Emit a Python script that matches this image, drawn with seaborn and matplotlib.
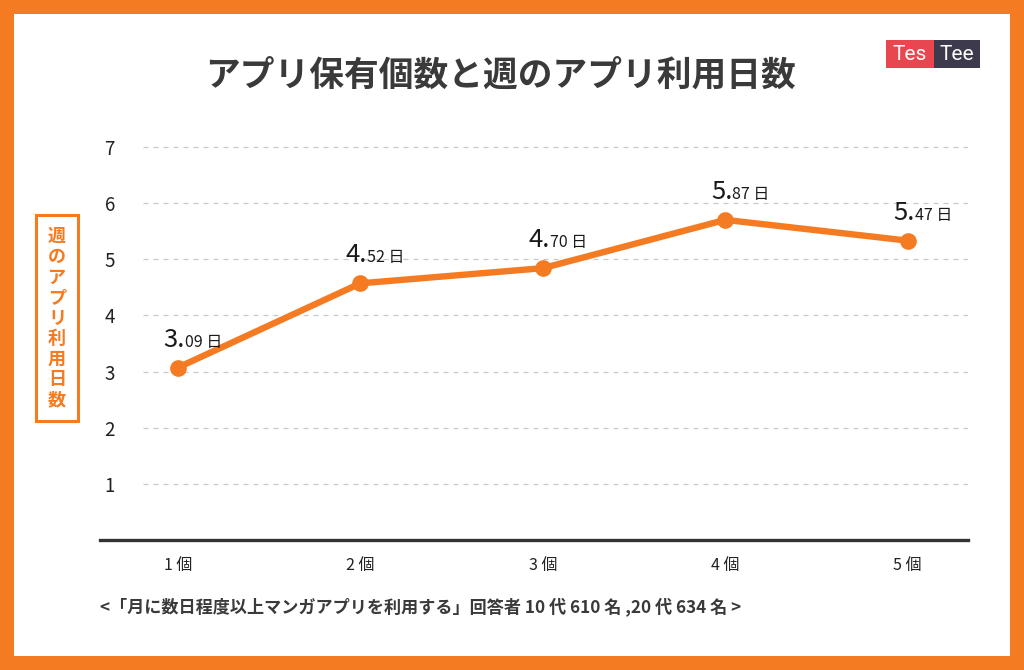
import seaborn as sns
import matplotlib.pyplot as plt
from matplotlib.patches import Rectangle
import pandas as pd

# data
counts = [1, 2, 3, 4, 5]
count_labels = ["1 個", "2 個", "3 個", "4 個", "5 個"]
days = [3.07, 4.57, 4.84, 5.70, 5.33]   # positions as drawn
label_int = ["3.", "4.", "4.", "5.", "5."]
label_dec = ["09 日", "52 日", "70 日", "87 日", "47 日"]
yticks = [1, 2, 3, 4, 5, 6, 7]

title = "アプリ保有個数と週のアプリ利用日数"
ylabel = "週のアプリ利用日数"
note = "<「月に数日程度以上マンガアプリを利用する」回答者 10 代 610 名 ,20 代 634 名 >"

ORANGE = "#F47B22"
DARK = "#3a3a3a"

sns.set_style("white")
plt.rcParams['font.family'] = ['Noto Sans CJK JP', 'DejaVu Sans']

df = pd.DataFrame({"count": counts, "days": days})

W, H = 1024, 670
fig = plt.figure(figsize=(W / 100, H / 100), dpi=100)
fig.patch.set_facecolor(ORANGE)
fig.patches.append(Rectangle((14 / W, 14 / H), (W - 28) / W, (H - 28) / H,
                             transform=fig.transFigure, facecolor="white",
                             edgecolor="none", zorder=-1))

# axes placed in pixel coords
left, right, top, bottom = 100, 968, 130, 540
ax = fig.add_axes([left / W, 1 - bottom / H, (right - left) / W, (bottom - top) / H])
ax.set_facecolor("none")
ax.set_zorder(1)

sns.lineplot(data=df, x="count", y="days", ax=ax, color=ORANGE, linewidth=4.6,
             marker="o", markersize=12, markeredgewidth=0, zorder=3)

ax.set_xlim(0.573, 5.33)
ax.set_ylim(0, 7.3)

# dashed grid, starting a bit right of the axis origin
ax.hlines(yticks, 0.81, 5.33, colors="#c8c8c8", linestyles=(0, (4, 4)),
          linewidth=0.9, zorder=1)

ax.set_yticks(yticks)
ax.set_yticklabels([str(v) for v in yticks], fontsize=13.5, color="#222222")
for t in ax.get_yticklabels():
    t.set_horizontalalignment("center")
ax.tick_params(axis="y", length=0, pad=-7)

ax.set_xticks(counts)
ax.set_xticklabels(count_labels, fontsize=11.5, color="#222222")
ax.tick_params(axis="x", length=0, pad=12)
ax.set_xlabel("")
ax.set_ylabel("")

for s in ["left", "right", "top"]:
    ax.spines[s].set_visible(False)
ax.spines["bottom"].set_color("#333333")
ax.spines["bottom"].set_linewidth(2.4)

# point labels: large integer part, smaller decimals
for x, y, a, b in zip(counts, days, label_int, label_dec):
    ax.annotate(a, (x, y), xytext=(5, 15), textcoords="offset points",
                ha="right", va="baseline", fontsize=18.5, color="#1a1a1a")
    ax.annotate(b, (x, y), xytext=(5, 15), textcoords="offset points",
                ha="left", va="baseline", fontsize=11.5, color="#1a1a1a")

# title
fig.text(500 / W, 1 - 75 / H, title, ha="center", va="center", fontsize=25,
         fontweight="bold", color=DARK)

# y label box
fig.text(57 / W, 1 - 318 / H, "\n".join(ylabel), ha="center", va="center",
         fontsize=13, fontweight="bold", color=ORANGE, linespacing=1.1,
         bbox=dict(boxstyle="square,pad=0.65", facecolor="white",
                   edgecolor=ORANGE, linewidth=2.2))

# footnote
fig.text(100 / W, 1 - 607 / H, note, ha="left", va="center", fontsize=12.3,
         fontweight="bold", color=DARK)

# logo
fig.patches.append(Rectangle((886 / W, 1 - 68 / H), 48 / W, 28 / H,
                             transform=fig.transFigure, facecolor="#E8474F",
                             edgecolor="none", zorder=2))
fig.patches.append(Rectangle((934 / W, 1 - 68 / H), 46 / W, 28 / H,
                             transform=fig.transFigure, facecolor="#3D3A4E",
                             edgecolor="none", zorder=2))
fig.text(910 / W, 1 - 54 / H, "Tes", ha="center", va="center", fontsize=15,
         color="white", family="Roboto", zorder=3)
fig.text(957 / W, 1 - 54 / H, "Tee", ha="center", va="center", fontsize=15,
         color="white", family="Roboto", zorder=3)

fig.savefig("out.png", dpi=100, facecolor=fig.get_facecolor())
